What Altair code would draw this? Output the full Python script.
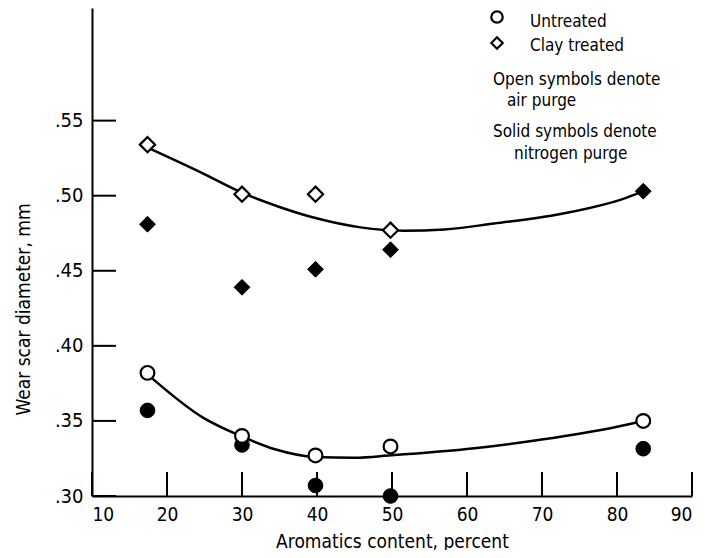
import altair as alt
import pandas as pd

# ---- data ----
aromatics = [17.4, 30, 39.8, 49.8, 83.5]
untreated_air = [0.382, 0.340, 0.327, 0.333, 0.350]
untreated_nitrogen = [0.357, 0.334, 0.307, 0.300, 0.3315]
clay_air_x = [17.4, 30, 39.8, 49.8]
clay_air = [0.534, 0.501, 0.501, 0.477]
clay_nitrogen = [0.481, 0.439, 0.451, 0.464, 0.503]

untreated_curve_x = [17.4, 24.8, 29.8, 34.4, 39.7, 45.0, 49.9, 61.0, 70.2, 79.4, 83.5]
untreated_curve_y = [0.381, 0.3522, 0.340, 0.3311, 0.326, 0.3255, 0.3271, 0.3318, 0.3378, 0.3455, 0.350]
clay_curve_x = [17.4, 24.5, 30, 35, 39.8, 45.8, 51.6, 57, 63.6, 72.5, 81.4, 83.5]
clay_curve_y = [0.532, 0.5155, 0.502, 0.4925, 0.4851, 0.4789, 0.4767, 0.4775, 0.4815, 0.4878, 0.4989, 0.503]

x_ticks = [10, 20, 30, 40, 50, 60, 70, 80, 90]
y_ticks = [0.30, 0.35, 0.40, 0.45, 0.50, 0.55]

legend_symbols = ["circle", "diamond"]
legend_lines = ["Untreated", "Clay treated", "Open symbols denote", "air purge",
                "Solid symbols denote", "nitrogen purge"]

FONT = "Liberation Sans Narrow, DejaVu Sans Condensed, Roboto Condensed, sans-serif"
W, H = 600, 488

xscale = alt.Scale(domain=[10, 90], nice=False, zero=False)
yscale = alt.Scale(domain=[0.30, 0.625], nice=False, zero=False)

xaxis = alt.Axis(values=x_ticks, format="d", ticks=False, grid=False,
                 domainColor="black", domainWidth=2,
                 labelFont=FONT, labelFontSize=19, labelColor="black", labelPadding=9,
                 title="Aromatics content, percent", titleFont=FONT, titleFontSize=19,
                 titleFontWeight="normal", titleColor="black",
                 titleY=51, titleBaseline="alphabetic")
yaxis = alt.Axis(values=y_ticks, format=".2f", labelExpr="substring(datum.label, 1)",
                 ticks=False, grid=False, domainColor="black", domainWidth=2,
                 labelFont=FONT, labelFontSize=20, labelColor="black", labelPadding=9,
                 title="Wear scar diameter,  mm", titleFont=FONT, titleFontSize=19,
                 titleFontWeight="normal", titleColor="black",
                 titleX=-69, titleY=301, titleBaseline="middle")


def X():
    return alt.X("x:Q", scale=xscale, axis=xaxis)


def Y():
    return alt.Y("y:Q", scale=yscale, axis=yaxis)


def df(xs, ys):
    return pd.DataFrame({"x": xs, "y": ys})


curves = [
    alt.Chart(df(cx, cy)).mark_line(color="black", strokeWidth=2.5, interpolate="monotone")
    .encode(x=X(), y=Y())
    for cx, cy in [(untreated_curve_x, untreated_curve_y), (clay_curve_x, clay_curve_y)]
]

xtick_layer = alt.Chart(pd.DataFrame({"x": x_ticks})).mark_rule(color="black", strokeWidth=2).encode(
    x=X(), y=alt.value(H), y2=alt.value(H - 24))
ytick_layer = alt.Chart(pd.DataFrame({"y": y_ticks})).mark_rule(color="black", strokeWidth=2).encode(
    y=Y(), x=alt.value(0), x2=alt.value(24))


def pts(xs, ys, shape, solid, size):
    if solid:
        m = alt.Chart(df(xs, ys)).mark_point(shape=shape, filled=True, fill="black",
                                              stroke="black", strokeWidth=1, size=size, opacity=1)
    else:
        m = alt.Chart(df(xs, ys)).mark_point(shape=shape, filled=True, fill="white",
                                              stroke="black", strokeWidth=2.2, size=size, opacity=1)
    return m.encode(x=X(), y=Y())


points = [
    pts(aromatics, untreated_nitrogen, "circle", True, 215),
    pts(clay_air_x, clay_air, "diamond", False, 230),
    pts(aromatics, untreated_air, "circle", False, 190),
    pts(aromatics, clay_nitrogen, "diamond", True, 250),
]

# legend (drawn as marks inside the plot area)
legend_layers = []
for sym, ypix in zip(legend_symbols, [9, 35]):
    legend_layers.append(
        alt.Chart(pd.DataFrame({"s": [sym]})).mark_point(shape=sym, filled=True, fill="white",
                                                         stroke="black", strokeWidth=2.2, size=130, opacity=1)
        .encode(x=alt.value(405), y=alt.value(ypix))
    )
for line, xpix, ypix in zip(legend_lines, [438, 438, 401, 415, 401, 422], [19, 43, 77, 98, 129, 151]):
    legend_layers.append(
        alt.Chart(pd.DataFrame({"t": [line]})).mark_text(align="left", baseline="alphabetic",
                                                          font=FONT, fontSize=17, color="black")
        .encode(text="t:N", x=alt.value(xpix), y=alt.value(ypix))
    )

chart = alt.layer(xtick_layer, ytick_layer, *curves, *points, *legend_layers).properties(
    width=W, height=H,
    autosize=alt.AutoSizeParams(type="none"),
    padding={"left": 84, "top": 0, "right": 5, "bottom": 54},
).configure_view(stroke=None)

chart.save("out.html", embed_options={"renderer": "svg", "actions": False})
